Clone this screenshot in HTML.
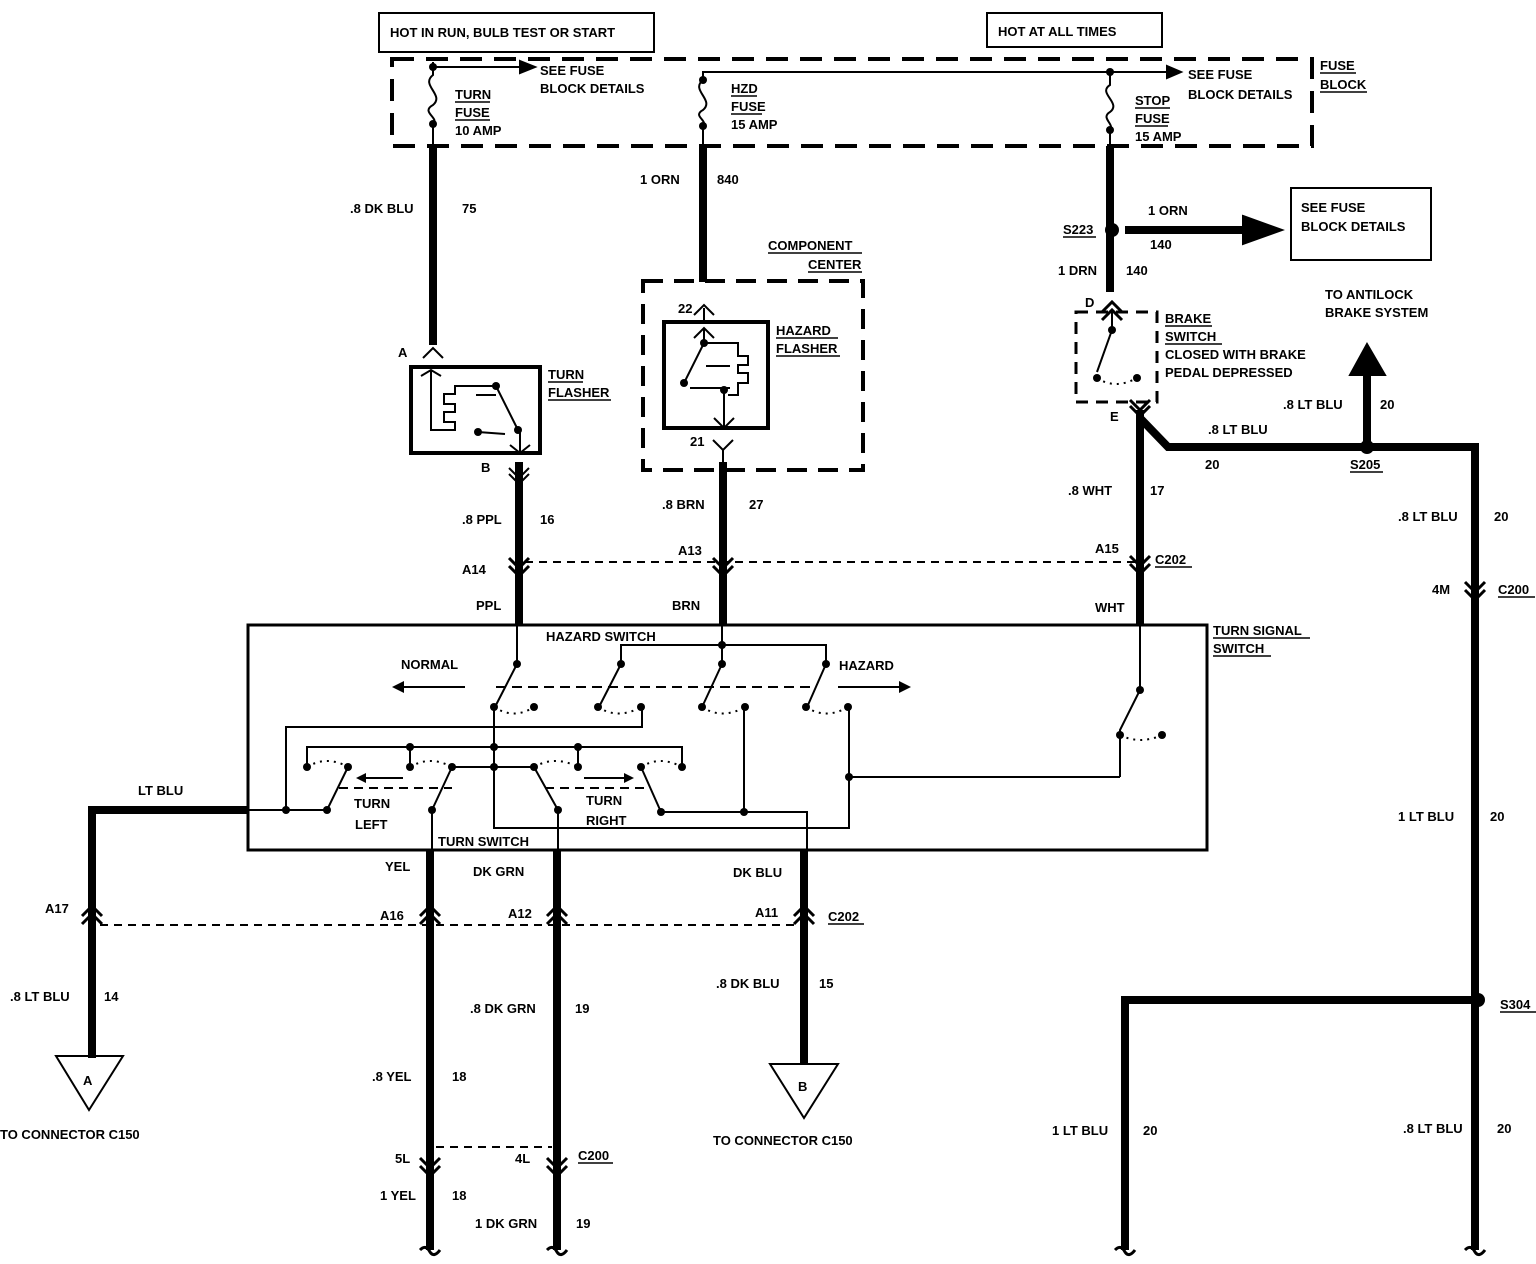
<!DOCTYPE html>
<html><head><meta charset="utf-8"><style>
html,body{margin:0;padding:0;background:#fff;}
svg{display:block;}
text{font-family:"Liberation Sans",sans-serif;font-weight:bold;font-size:13px;fill:#000;}
</style></head><body>
<svg width="1536" height="1264" viewBox="0 0 1536 1264" xmlns="http://www.w3.org/2000/svg">
<g fill="none" stroke="#000" stroke-width="2">
<rect x="379" y="13" width="275" height="39"/>
<rect x="987" y="13" width="175" height="34"/>
<rect x="392" y="59" width="920" height="87" stroke-width="4" stroke-dasharray="22,12"/>
<rect x="643" y="281" width="220" height="189" stroke-width="4" stroke-dasharray="20,11"/>
<rect x="1076" y="312" width="81" height="90" stroke-width="3" stroke-dasharray="12,8"/>

<path d="M433 62 V75 C420 85 445 95 433 105 C420 112 440 118 433 124 V146"/>
<path d="M433 67 H525"/>
<path d="M1110 72 H703 V80 C690 90 715 100 703 110 C692 116 708 120 703 126 V146"/>
<path d="M1110 70 V85 C1097 93 1122 103 1110 112 C1100 118 1115 124 1110 130 V146"/>
<path d="M1110 72 H1170"/>

<g stroke-width="8">
<path d="M433 146 V345"/>
<path d="M703 146 V282"/>
<path d="M519 462 V625"/>
<path d="M723 462 V625"/>
<path d="M1110 146 V292"/>
<path d="M1125 230 H1245"/>
<path d="M1140 410 V625"/>
<path d="M1140 418 L1168 447 H1475 V1250"/>
<path d="M1367 447 V370"/>
<path d="M1478 1000 H1125 V1250"/>
<path d="M248 810 H92 V1058"/>
<path d="M430 850 V1250"/>
<path d="M557 850 V1250"/>
<path d="M804 850 V1065"/>
</g>
<polygon points="1243,216 1282,230 1243,244" fill="#000"/>
<polygon points="1350,375 1367,344 1385,375" fill="#000"/>
<polygon points="520,61 535,67 520,73" fill="#000"/>
<polygon points="1167,66 1181,72 1167,78" fill="#000"/>

<rect x="411" y="367" width="129" height="86" stroke-width="4"/>
<path d="M421 376 L431 370 L441 376 M431 370 V430 H455 V422 H444 V412 H455 V404 H444 V394 H455 V386 H496 L518 430 M478 432 L505 434 M476 395 H496" />
<path d="M520 430 V453 M510 445 L520 453 L530 445"/>
<rect x="664" y="322" width="104" height="106" stroke-width="4"/>
<path d="M704 308 V322 M694 338 L704 328 L714 338 M704 328 V343 L684 383 M704 343 H738 V356 H748 V365 H738 V373 H748 V383 H738 V395 H728 M690 388 L730 388 M724 390 V428 M714 418 L724 428 L734 418 M706 366 H730"/>

<path d="M423 358 L433 348 L443 358"/>
<path d="M694 315 L704 305 L714 315"/>
<path d="M509 468 L519 478 L529 468 M509 474 L519 484 L529 474"/>
<path d="M713 440 L723 450 L733 440 M723 450 V462"/>
<g stroke-width="3">
<path d="M509 558 L519 568 L529 558 M509 566 L519 576 L529 566"/>
<path d="M713 558 L723 568 L733 558 M713 566 L723 576 L733 566"/>
<path d="M1130 556 L1140 566 L1150 556 M1130 564 L1140 574 L1150 564"/>
<path d="M1465 582 L1475 592 L1485 582 M1465 590 L1475 600 L1485 590"/>
<path d="M82 916 L92 906 L102 916 M82 924 L92 914 L102 924"/>
<path d="M420 916 L430 906 L440 916 M420 924 L430 914 L440 924"/>
<path d="M547 916 L557 906 L567 916 M547 924 L557 914 L567 924"/>
<path d="M794 916 L804 906 L814 916 M794 924 L804 914 L814 924"/>
<path d="M420 1158 L430 1168 L440 1158 M420 1166 L430 1176 L440 1166"/>
<path d="M547 1158 L557 1168 L567 1158 M547 1166 L557 1176 L567 1166"/>
<path d="M1102 312 L1112 302 L1122 312 M1102 320 L1112 310 L1122 320"/>
<path d="M1130 400 L1140 410 L1150 400 M1130 406 L1140 416 L1150 406"/>
</g>
<path d="M1112 312 V330 L1097 372"/>
<path d="M1097 378 Q1115 390 1137 378" stroke-dasharray="2,5"/>

<path d="M525 562 H1135" stroke-dasharray="8,6"/>
<path d="M100 925 H800" stroke-dasharray="8,6"/>
<path d="M436 1147 H552" stroke-dasharray="8,6"/>

<path d="M420 1250 Q426 1244 430 1252 Q434 1258 440 1250 M547 1250 Q553 1244 557 1252 Q561 1258 567 1250 M1115 1250 Q1121 1244 1125 1252 Q1129 1258 1135 1250 M1465 1250 Q1471 1244 1475 1252 Q1479 1258 1485 1250" stroke-width="3"/>

<polygon points="56,1056 123,1056 89,1110"/>
<polygon points="770,1064 838,1064 804,1118"/>

<rect x="1291" y="188" width="140" height="72"/>

<rect x="248" y="625" width="959" height="225" stroke-width="3"/>

<path d="M517 625 V664 M722 625 V664 M621 664 V645 H826 V664"/>
<path d="M517 664 L496 705 M621 664 L600 705 M722 664 L703 705 M826 664 L808 705"/>
<path d="M496 687 H812" stroke-dasharray="10,6"/>
<path d="M494 707 Q514 720 534 707 M598 707 Q618 720 641 707 M702 707 Q722 720 745 707 M806 707 Q826 720 848 707" stroke-dasharray="2,5"/>
<path d="M465 687 H395 M838 687 H905"/>
<path d="M494 707 V828 H849 V707 M642 707 V727 H286 V810 M307 767 V747 H682 V767 M410 747 V767 M578 747 V767"/>
<path d="M849 777 H1120 M744 707 V812 M661 812 H807 V850"/>
<path d="M452 767 H534 M244 810 H327 L348 767 M432 850 V810 L452 767 M534 767 L558 810 V850 M641 767 L661 812"/>
<path d="M307 767 Q327 755 348 767 M410 767 Q430 755 452 767 M534 767 Q555 755 578 767 M641 767 Q660 755 682 767" stroke-dasharray="2,5"/>
<path d="M339 788 H452 M545 788 H650" stroke-dasharray="9,6"/>
<path d="M403 778 H362 M584 778 H628"/>
<path d="M1140 625 V690 L1120 730 V777"/>
<path d="M1120 735 Q1140 745 1162 735" stroke-dasharray="2,5"/>
</g>
<g fill="#000">
<polygon points="392,687 404,681 404,693"/><polygon points="911,687 899,681 899,693"/>
<polygon points="356,778 366,773 366,783"/><polygon points="634,778 624,773 624,783"/>
</g>
<g fill="#000">
<circle cx="433" cy="67" r="4"/><circle cx="433" cy="124" r="4"/><circle cx="703" cy="80" r="4"/><circle cx="703" cy="126" r="4"/>
<circle cx="1110" cy="72" r="4"/><circle cx="1110" cy="130" r="4"/>
<circle cx="1112" cy="230" r="7"/><circle cx="1367" cy="447" r="7"/><circle cx="1478" cy="1000" r="7"/>
<circle cx="496" cy="386" r="4"/><circle cx="518" cy="430" r="4"/><circle cx="478" cy="432" r="4"/>
<circle cx="704" cy="343" r="4"/><circle cx="684" cy="383" r="4"/><circle cx="724" cy="390" r="4"/>
<circle cx="1112" cy="330" r="4"/><circle cx="1097" cy="378" r="4"/><circle cx="1137" cy="378" r="4"/>
<circle cx="517" cy="664" r="4"/><circle cx="621" cy="664" r="4"/><circle cx="722" cy="664" r="4"/><circle cx="826" cy="664" r="4"/><circle cx="722" cy="645" r="4"/>
<circle cx="494" cy="707" r="4"/><circle cx="534" cy="707" r="4"/><circle cx="598" cy="707" r="4"/><circle cx="641" cy="707" r="4"/>
<circle cx="702" cy="707" r="4"/><circle cx="745" cy="707" r="4"/><circle cx="806" cy="707" r="4"/><circle cx="848" cy="707" r="4"/>
<circle cx="410" cy="747" r="4"/><circle cx="494" cy="747" r="4"/><circle cx="578" cy="747" r="4"/>
<circle cx="307" cy="767" r="4"/><circle cx="348" cy="767" r="4"/><circle cx="410" cy="767" r="4"/><circle cx="452" cy="767" r="4"/>
<circle cx="494" cy="767" r="4"/><circle cx="534" cy="767" r="4"/><circle cx="578" cy="767" r="4"/><circle cx="641" cy="767" r="4"/><circle cx="682" cy="767" r="4"/>
<circle cx="286" cy="810" r="4"/><circle cx="327" cy="810" r="4"/><circle cx="432" cy="810" r="4"/><circle cx="558" cy="810" r="4"/><circle cx="661" cy="812" r="4"/><circle cx="744" cy="812" r="4"/>
<circle cx="849" cy="777" r="4"/><circle cx="1140" cy="690" r="4"/><circle cx="1120" cy="735" r="4"/><circle cx="1162" cy="735" r="4"/>
</g>

<g>
<text x="390" y="37">HOT IN RUN, BULB TEST OR START</text>
<text x="998" y="36">HOT AT ALL TIMES</text>
<text x="540" y="75">SEE FUSE</text><text x="540" y="93">BLOCK DETAILS</text>
<text x="455" y="99">TURN</text><text x="455" y="117">FUSE</text><text x="455" y="135">10 AMP</text>
<text x="731" y="93">HZD</text><text x="731" y="111">FUSE</text><text x="731" y="129">15 AMP</text>
<text x="1135" y="105">STOP</text><text x="1135" y="123">FUSE</text><text x="1135" y="141">15 AMP</text>
<text x="1188" y="79">SEE FUSE</text><text x="1188" y="99">BLOCK DETAILS</text>
<text x="1320" y="70">FUSE</text><text x="1320" y="89">BLOCK</text>
<text x="350" y="213">.8 DK BLU</text><text x="462" y="213">75</text>
<text x="640" y="184">1 ORN</text><text x="717" y="184">840</text>
<text x="768" y="250">COMPONENT</text><text x="808" y="269">CENTER</text>
<text x="398" y="357">A</text>
<text x="548" y="379">TURN</text><text x="548" y="397">FLASHER</text>
<text x="776" y="335">HAZARD</text><text x="776" y="353">FLASHER</text>
<text x="678" y="313">22</text><text x="690" y="446">21</text>
<text x="481" y="472">B</text>
<text x="462" y="524">.8 PPL</text><text x="540" y="524">16</text>
<text x="662" y="509">.8 BRN</text><text x="749" y="509">27</text>
<text x="462" y="574">A14</text><text x="678" y="555">A13</text>
<text x="476" y="610">PPL</text><text x="672" y="610">BRN</text>
<text x="1148" y="215">1 ORN</text><text x="1150" y="249">140</text>
<text x="1063" y="234">S223</text>
<text x="1301" y="212">SEE FUSE</text><text x="1301" y="231">BLOCK DETAILS</text>
<text x="1058" y="275">1 DRN</text><text x="1126" y="275">140</text>
<text x="1085" y="307">D</text><text x="1110" y="421">E</text>
<text x="1165" y="323">BRAKE</text><text x="1165" y="341">SWITCH</text><text x="1165" y="359">CLOSED WITH BRAKE</text><text x="1165" y="377">PEDAL DEPRESSED</text>
<text x="1325" y="299">TO ANTILOCK</text><text x="1325" y="317">BRAKE SYSTEM</text>
<text x="1283" y="409">.8 LT BLU</text><text x="1380" y="409">20</text>
<text x="1208" y="434">.8 LT BLU</text><text x="1205" y="469">20</text><text x="1350" y="469">S205</text>
<text x="1068" y="495">.8 WHT</text><text x="1150" y="495">17</text>
<text x="1095" y="553">A15</text><text x="1155" y="564">C202</text>
<text x="1095" y="612">WHT</text>
<text x="1398" y="521">.8 LT BLU</text><text x="1494" y="521">20</text>
<text x="1432" y="594">4M</text><text x="1498" y="594">C200</text>
<text x="1213" y="635">TURN SIGNAL</text><text x="1213" y="653">SWITCH</text>
<text x="546" y="641">HAZARD SWITCH</text>
<text x="401" y="669">NORMAL</text><text x="839" y="670">HAZARD</text>
<text x="354" y="808">TURN</text><text x="355" y="829">LEFT</text>
<text x="586" y="805">TURN</text><text x="586" y="825">RIGHT</text>
<text x="438" y="846">TURN SWITCH</text>
<text x="138" y="795">LT BLU</text>
<text x="1398" y="821">1 LT BLU</text><text x="1490" y="821">20</text>
<text x="1500" y="1009">S304</text>
<text x="385" y="871">YEL</text><text x="473" y="876">DK GRN</text><text x="733" y="877">DK BLU</text>
<text x="45" y="913">A17</text><text x="380" y="920">A16</text><text x="508" y="918">A12</text><text x="755" y="917">A11</text><text x="828" y="921">C202</text>
<text x="10" y="1001">.8 LT BLU</text><text x="104" y="1001">14</text>
<text x="470" y="1013">.8 DK GRN</text><text x="575" y="1013">19</text>
<text x="716" y="988">.8 DK BLU</text><text x="819" y="988">15</text>
<text x="372" y="1081">.8 YEL</text><text x="452" y="1081">18</text>
<text x="83" y="1085" font-size="16">A</text><text x="798" y="1091" font-size="16">B</text>
<text x="0" y="1139">TO CONNECTOR C150</text><text x="713" y="1145">TO CONNECTOR C150</text>
<text x="1052" y="1135">1 LT BLU</text><text x="1143" y="1135">20</text>
<text x="1403" y="1133">.8 LT BLU</text><text x="1497" y="1133">20</text>
<text x="395" y="1163">5L</text><text x="515" y="1163">4L</text><text x="578" y="1160">C200</text>
<text x="380" y="1200">1 YEL</text><text x="452" y="1200">18</text>
<text x="475" y="1228">1 DK GRN</text><text x="576" y="1228">19</text>
</g>
<g stroke="#000" stroke-width="1.5">
<line x1="455" y1="102" x2="490" y2="102"/><line x1="455" y1="120" x2="490" y2="120"/>
<line x1="731" y1="96" x2="757" y2="96"/><line x1="731" y1="114" x2="762" y2="114"/>
<line x1="1135" y1="108" x2="1170" y2="108"/><line x1="1135" y1="126" x2="1168" y2="126"/>
<line x1="1320" y1="73" x2="1356" y2="73"/><line x1="1320" y1="92" x2="1367" y2="92"/>
<line x1="768" y1="253" x2="862" y2="253"/><line x1="808" y1="272" x2="862" y2="272"/>
<line x1="548" y1="382" x2="583" y2="382"/><line x1="548" y1="400" x2="611" y2="400"/>
<line x1="776" y1="338" x2="838" y2="338"/><line x1="776" y1="356" x2="840" y2="356"/>
<line x1="1165" y1="326" x2="1212" y2="326"/><line x1="1165" y1="344" x2="1222" y2="344"/>
<line x1="1063" y1="237" x2="1096" y2="237"/><line x1="1350" y1="472" x2="1383" y2="472"/>
<line x1="1155" y1="567" x2="1192" y2="567"/><line x1="1498" y1="597" x2="1535" y2="597"/>
<line x1="1213" y1="638" x2="1310" y2="638"/><line x1="1213" y1="656" x2="1271" y2="656"/>
<line x1="828" y1="924" x2="864" y2="924"/><line x1="578" y1="1163" x2="613" y2="1163"/>
<line x1="1500" y1="1012" x2="1536" y2="1012"/>
</g>
</svg>
</body></html>
